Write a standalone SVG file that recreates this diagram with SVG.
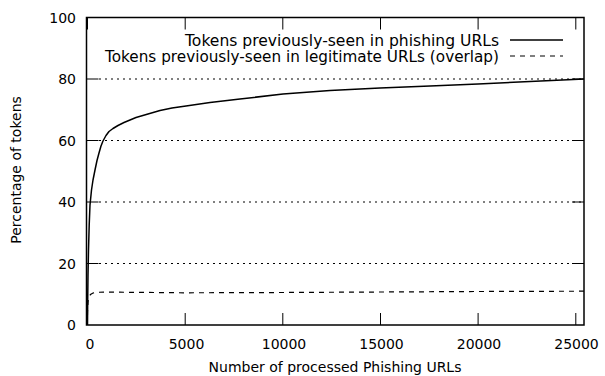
<svg xmlns="http://www.w3.org/2000/svg" width="605" height="376" viewBox="0 0 605 376">
<style>
text{font-family:"DejaVu Sans",sans-serif;font-size:14px;fill:#000}
.leg{font-size:15.3px;text-anchor:end}
.grid{stroke:#000;stroke-width:1;stroke-dasharray:2,4;fill:none}
.tick{stroke:#000;stroke-width:1;fill:none}
.border{stroke:#000;stroke-width:1.5;fill:none}
.solid{stroke:#000;stroke-width:1.5;fill:none;stroke-linejoin:round}
.dashed{stroke:#000;stroke-width:1.2;fill:none;stroke-dasharray:5,5}
.yl{text-anchor:end}
.xl{text-anchor:middle}
</style>
<rect width="605" height="376" fill="#fff"/>
<g id="grid">
<line class="grid" x1="99" y1="263.5" x2="584" y2="263.5"/>
<line class="grid" x1="99" y1="202" x2="584" y2="202"/>
<line class="grid" x1="99" y1="140.5" x2="584" y2="140.5"/>
<line class="grid" x1="99" y1="79" x2="584" y2="79"/>
</g>
<g id="ticks">
<path class="tick" d="M86.5,263.5h12M86.5,202h12M86.5,140.5h12M86.5,79h12M584,263.5h-12M584,202h-12M584,140.5h-12M584,79h-12"/>
<path class="tick" d="M87.5,325v-12M185.2,325v-12M282.8,325v-12M380.5,325v-12M478.1,325v-12M575.8,325v-12M87.5,17.5v12M185.2,17.5v12M282.8,17.5v12M380.5,17.5v12M478.1,17.5v12M575.8,17.5v12"/>
</g>
<g id="ylabels">
<text class="yl" x="76" y="330">0</text>
<text class="yl" x="76" y="268.5">20</text>
<text class="yl" x="76" y="207">40</text>
<text class="yl" x="76" y="145.5">60</text>
<text class="yl" x="76" y="84">80</text>
<text class="yl" x="76" y="22.5">100</text>
</g>
<g id="xlabels">
<text class="xl" x="90" y="349">0</text>
<text class="xl" x="186.5" y="349">5000</text>
<text class="xl" x="284" y="349">10000</text>
<text class="xl" x="381.5" y="349">15000</text>
<text class="xl" x="479" y="349">20000</text>
<text class="xl" x="576.5" y="349">25000</text>
</g>
<text id="xtitle" x="335" y="372" text-anchor="middle">Number of processed Phishing URLs</text>
<text id="ytitle" transform="translate(20.5,170) rotate(-90)" text-anchor="middle">Percentage of tokens</text>
<g id="legend">
<text class="leg" x="499" y="45.5" textLength="314" lengthAdjust="spacingAndGlyphs">Tokens previously-seen in phishing URLs</text>
<line class="solid" x1="510" y1="40" x2="563" y2="40"/>
<text class="leg" x="499" y="62" textLength="394" lengthAdjust="spacingAndGlyphs">Tokens previously-seen in legitimate URLs (overlap)</text>
<line class="dashed" x1="510" y1="56" x2="563" y2="56"/>
</g>
<g id="series">
<path class="solid" d="M87.5,325 L87.7,300 L88,275 L88.5,250 L89.2,225 L90,205 L91.5,190 L93,180 L95,170 L97,160.5 L99,153 L101,146 L103,141 L106,135.5 L109,131.5 L113,128.5 L118,125.5 L124,122.5 L130,120 L136,117.5 L148,114 L160,110.5 L172,108 L186,106 L210,102.5 L240,99 L283,94 L330,90.5 L380,88 L430,86 L478,84 L530,81.5 L584,79"/>
<path class="dashed" d="M87.3,325 L87.5,312 L88,302 L89,297 L90.5,294.5 L93,293 L97,292.3 L105,292 L130,292.3 L185,292.8 L283,292.5 L380,292 L478,291.5 L584,291.2"/>
</g>
<rect id="border" class="border" x="86.5" y="17.5" width="497.5" height="307.5"/>
</svg>
